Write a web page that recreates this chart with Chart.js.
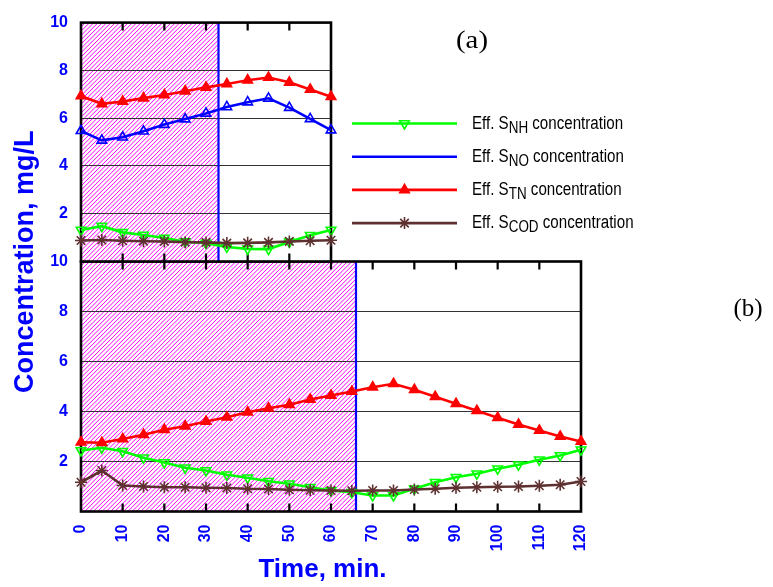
<!DOCTYPE html>
<html>
<head>
<meta charset="utf-8">
<script src="https://cdn.jsdelivr.net/npm/chart.js@4.4.1/dist/chart.umd.min.js"></script>
<style>
  html, body { margin: 0; padding: 0; background: #fff; }
  #wrap { position: relative; width: 773px; height: 587px; }
  #wrap canvas { position: absolute; left: 0; top: 0; }
</style>
</head>
<body>
<div id="wrap">
  <canvas id="lower" width="773" height="587"></canvas>
  <canvas id="upper" width="773" height="587"></canvas>
</div>
<script>
// ---- Panel (a): effluent concentrations over one 60-min cycle ----
const timeA = [0, 5, 10, 15, 20, 25, 30, 35, 40, 45, 50, 55, 60];
const snhA  = [1.32, 1.48, 1.22, 1.11, 0.98, 0.83, 0.77, 0.61, 0.53, 0.52, 0.82, 1.10, 1.32];
const snoA  = [5.47, 5.07, 5.20, 5.45, 5.73, 5.96, 6.20, 6.47, 6.67, 6.83, 6.44, 5.97, 5.50];
const stnA  = [6.93, 6.60, 6.70, 6.84, 6.97, 7.13, 7.29, 7.43, 7.59, 7.70, 7.50, 7.20, 6.90];
const scodA = [0.88, 0.90, 0.87, 0.85, 0.84, 0.81, 0.80, 0.77, 0.78, 0.80, 0.84, 0.87, 0.89];
const shadedUntilA = 33;

// ---- Panel (b): effluent concentrations over one 120-min cycle ----
const timeB = [0, 5, 10, 15, 20, 25, 30, 35, 40, 45, 50, 55, 60, 65, 70, 75, 80, 85, 90, 95, 100, 105, 110, 115, 120];
const snhB  = [2.44, 2.55, 2.41, 2.15, 1.96, 1.75, 1.64, 1.47, 1.35, 1.21, 1.11, 0.97, 0.84, 0.77, 0.64, 0.64, 0.91, 1.17, 1.37, 1.51, 1.71, 1.87, 2.07, 2.24, 2.47];
const stnB  = [2.77, 2.75, 2.90, 3.07, 3.27, 3.41, 3.60, 3.77, 3.97, 4.13, 4.27, 4.48, 4.64, 4.80, 4.97, 5.11, 4.87, 4.59, 4.31, 4.03, 3.75, 3.48, 3.24, 3.00, 2.80];
const scodB = [1.17, 1.64, 1.04, 1.00, 0.97, 0.97, 0.95, 0.94, 0.91, 0.90, 0.87, 0.85, 0.84, 0.83, 0.84, 0.84, 0.88, 0.91, 0.95, 0.97, 0.99, 1.00, 1.03, 1.07, 1.20];
const shadedUntilB = 66;

// ---- Axis ranges and tick steps ----
const yMin = 0, yMax = 10, yStep = 2;
const xStep = 10;

// ---- Legend entries (subscript part of each species name) ----
const legendSubs = ['NH', 'NO', 'TN', 'COD'];

const BLUE = '#0000ff';
const COLORS = { snh: '#00ff00', sno: '#0000ff', stn: '#ff0000', scod: '#5e3030' };
const STYLE = {
  snh:  { pointStyle: 'triangle', rotation: 180, radius: 5.5, fill: 'rgba(0,0,0,0)' },
  sno:  { pointStyle: 'triangle', rotation: 0,   radius: 5.5, fill: 'rgba(0,0,0,0)' },
  stn:  { pointStyle: 'triangle', rotation: 0,   radius: 5.5, fill: '#ff0000' },
  scod: { pointStyle: 'star',     rotation: 0,   radius: 6,   fill: 'rgba(0,0,0,0)' }
};

function pts(xs, ys) { return xs.map((x, i) => ({ x: x, y: ys[i] })); }

function series(key, xs, ys) {
  const s = STYLE[key];
  return {
    data: pts(xs, ys),
    borderColor: COLORS[key],
    borderWidth: 2.6,
    pointStyle: s.pointStyle,
    rotation: s.rotation,
    pointRadius: s.radius,
    pointBorderWidth: 1.6,
    pointBorderColor: COLORS[key],
    pointBackgroundColor: s.fill,
    tension: 0,
    clip: false
  };
}

// Hatched phase, boundary line, frame and inward tick marks
const panelPlugin = {
  id: 'panel',
  beforeDraw(chart, args, opts) {
    const { ctx, chartArea: a, scales: { x } } = chart;
    const xe = x.getPixelForValue(opts.shadedUntil);
    ctx.save();
    ctx.fillStyle = '#fff';
    ctx.fillRect(a.left, a.top, a.right - a.left, a.bottom - a.top);
    ctx.beginPath();
    ctx.rect(a.left, a.top, xe - a.left, a.bottom - a.top);
    ctx.clip();
    ctx.strokeStyle = '#ff00ff';
    ctx.lineWidth = 1.0;
    const h = a.bottom - a.top;
    ctx.beginPath();
    for (let k = a.left - h; k < xe + 5; k += 4.3) {
      ctx.moveTo(k, a.bottom);
      ctx.lineTo(k + h, a.top);
    }
    ctx.stroke();
    ctx.restore();
  },
  beforeDatasetsDraw(chart, args, opts) {
    const { ctx, chartArea: a, scales: { x } } = chart;
    const xe = x.getPixelForValue(opts.shadedUntil);
    ctx.save();
    ctx.strokeStyle = BLUE;
    ctx.lineWidth = 2.2;
    ctx.beginPath();
    ctx.moveTo(xe, a.top);
    ctx.lineTo(xe, a.bottom);
    ctx.stroke();
    ctx.strokeStyle = '#000';
    ctx.lineWidth = 2.6;
    ctx.strokeRect(a.left, a.top, a.right - a.left, a.bottom - a.top);
    ctx.lineWidth = 2.2;
    ctx.beginPath();
    for (let v = x.min + xStep; v < x.max; v += xStep) {
      const px = x.getPixelForValue(v);
      ctx.moveTo(px, a.top); ctx.lineTo(px, a.top + 8);
      ctx.moveTo(px, a.bottom); ctx.lineTo(px, a.bottom - 8);
    }
    ctx.stroke();
    ctx.restore();
  }
};

function drawMarker(ctx, key, x, y) {
  const s = STYLE[key];
  ctx.save();
  ctx.strokeStyle = COLORS[key];
  ctx.fillStyle = s.fill;
  ctx.lineWidth = 1.6;
  Chart.helpers.drawPoint(ctx, { pointStyle: s.pointStyle, rotation: s.rotation, radius: s.radius, borderWidth: 1.6 }, x, y);
  ctx.restore();
}

// Legend with subscripted species names, plus the panel tag
const legendPlugin = {
  id: 'speciesLegend',
  afterDraw(chart) {
    const ctx = chart.ctx;
    const keys = ['snh', 'sno', 'stn', 'scod'];
    const withMarker = [true, false, true, true];
    ctx.save();
    keys.forEach((k, i) => {
      const y = 123.5 + i * 33.2;
      ctx.strokeStyle = COLORS[k];
      ctx.lineWidth = 2.6;
      ctx.beginPath();
      ctx.moveTo(352, y);
      ctx.lineTo(457, y);
      ctx.stroke();
      if (withMarker[i]) drawMarker(ctx, k, 404.5, y);

      ctx.save();
      ctx.translate(472, y + 5);
      ctx.scale(0.84, 1);
      ctx.fillStyle = '#000';
      ctx.textBaseline = 'alphabetic';
      ctx.textAlign = 'left';
      ctx.font = '18px "Liberation Sans", Arial, sans-serif';
      let cx = 0;
      ctx.fillText('Eff. S', cx, 0);
      cx += ctx.measureText('Eff. S').width;
      ctx.font = '16px "Liberation Sans", Arial, sans-serif';
      ctx.fillText(legendSubs[i], cx, 4);
      cx += ctx.measureText(legendSubs[i]).width;
      ctx.font = '18px "Liberation Sans", Arial, sans-serif';
      ctx.fillText(' concentration', cx, 0);
      ctx.restore();
    });
    ctx.fillStyle = '#000';
    ctx.font = '25px "Liberation Serif", "Times New Roman", serif';
    ctx.textAlign = 'center';
    ctx.textBaseline = 'middle';
    ctx.save();
    ctx.translate(472, 41);
    ctx.scale(1.15, 1);
    ctx.fillText('(a)', 0, 0);
    ctx.restore();
    ctx.restore();
  }
};

// Axis titles and panel tag for the lower chart
const titlesPlugin = {
  id: 'titles',
  afterDraw(chart) {
    const ctx = chart.ctx;
    ctx.save();
    ctx.fillStyle = BLUE;
    ctx.font = 'bold 26px "Liberation Sans", Arial, sans-serif';
    ctx.textAlign = 'center';
    ctx.textBaseline = 'alphabetic';
    ctx.fillText('Time, min.', 322.5, 577);
    ctx.save();
    ctx.translate(33, 393);
    ctx.rotate(-Math.PI / 2);
    ctx.textAlign = 'left';
    ctx.font = 'bold 27px "Liberation Sans", Arial, sans-serif';
    ctx.fillText('Concentration, mg/L', 0, 0);
    ctx.restore();
    ctx.fillStyle = '#000';
    ctx.textBaseline = 'middle';
    ctx.font = '25px "Liberation Serif", "Times New Roman", serif';
    ctx.fillText('(b)', 748, 309);
    ctx.restore();
  }
};

function yScale() {
  return {
    type: 'linear',
    min: yMin, max: yMax,
    afterFit(scale) { scale.width = 81; },
    ticks: {
      stepSize: yStep,
      color: BLUE,
      padding: 13,
      font: { family: '"Liberation Sans", Arial, sans-serif', size: 16, weight: 'bold' },
      callback: (v) => (v === 0 ? '' : v)
    },
    grid: {
      drawTicks: false,
      lineWidth: 1,
      color: (c) => (c.tick && (c.tick.value === yMin || c.tick.value === yMax)) ? 'rgba(0,0,0,0)' : '#333'
    },
    border: { display: false }
  };
}

const common = {
  responsive: false,
  animation: false,
  devicePixelRatio: 1,
  events: [],
  plugins: { legend: { display: false }, tooltip: { enabled: false } }
};

new Chart(document.getElementById('lower'), {
  type: 'line',
  data: {
    datasets: [
      series('stn', timeB, stnB),
      series('scod', timeB, scodB),
      series('snh', timeB, snhB)
    ]
  },
  options: Object.assign({}, common, {
    layout: { padding: { top: 261.5, right: 192, bottom: 0, left: 0 } },
    plugins: Object.assign({}, common.plugins, { panel: { shadedUntil: shadedUntilB } }),
    scales: {
      x: {
        type: 'linear',
        min: timeB[0], max: timeB[timeB.length - 1],
        afterFit(scale) { scale.height = 75.5; },
        ticks: {
          stepSize: xStep,
          autoSkip: false,
          minRotation: 90, maxRotation: 90,
          padding: 13,
          color: BLUE,
          font: { family: '"Liberation Sans", Arial, sans-serif', size: 16, weight: 'bold' }
        },
        grid: { display: false, drawTicks: false },
        border: { display: false }
      },
      y: yScale()
    }
  }),
  plugins: [panelPlugin, titlesPlugin]
});

new Chart(document.getElementById('upper'), {
  type: 'line',
  data: {
    datasets: [
      series('stn', timeA, stnA),
      series('sno', timeA, snoA),
      series('scod', timeA, scodA),
      series('snh', timeA, snhA)
    ]
  },
  options: Object.assign({}, common, {
    layout: { padding: { top: 11.5, right: 442, bottom: 325.5, left: 0 } },
    plugins: Object.assign({}, common.plugins, { panel: { shadedUntil: shadedUntilA } }),
    scales: {
      x: {
        type: 'linear',
        display: false,
        min: timeA[0], max: timeA[timeA.length - 1]
      },
      y: yScale()
    }
  }),
  plugins: [panelPlugin, legendPlugin]
});
</script>
</body>
</html>
